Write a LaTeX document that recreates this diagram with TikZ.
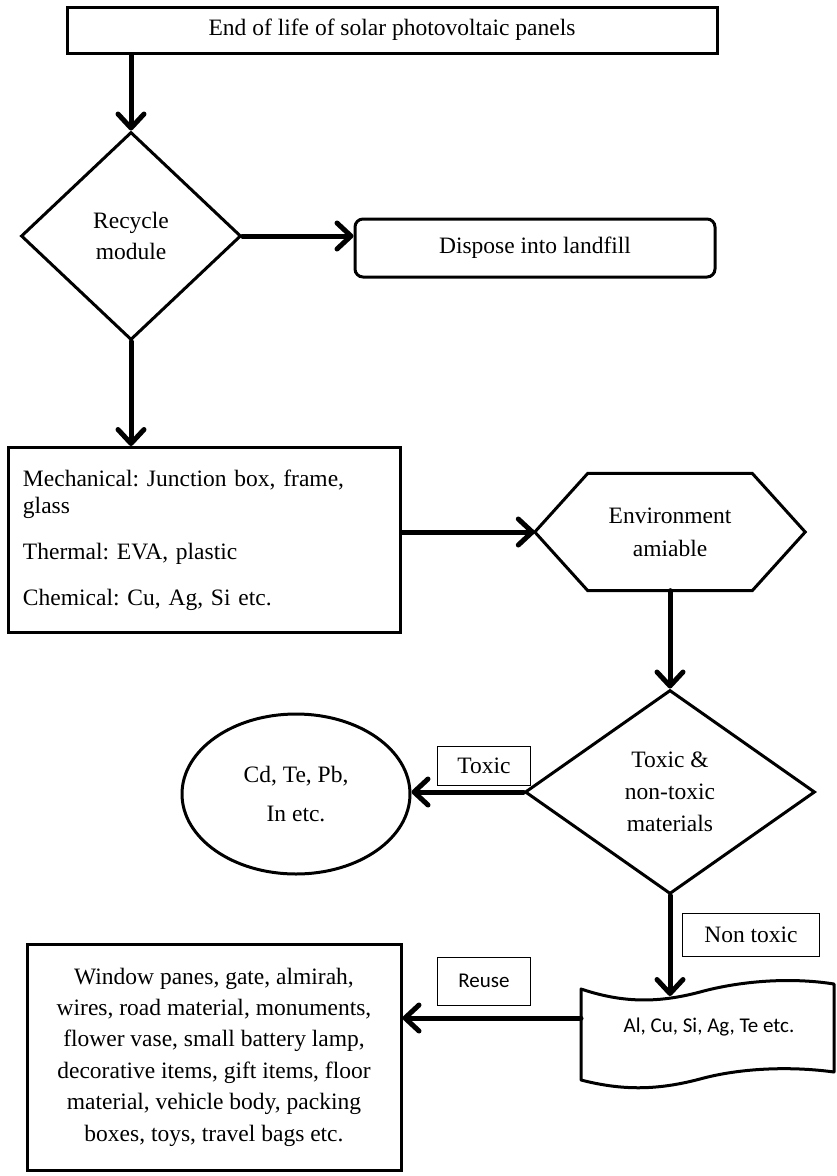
\documentclass[tikz,border=0pt]{standalone}
\usepackage{fontspec}
\setmainfont{Liberation Serif}
\newfontfamily\labelsans{Carlito}
\usetikzlibrary{positioning,shapes.geometric,arrows.meta}
\frenchspacing

\begin{document}
\begin{tikzpicture}[x=1pt,y=-1pt,
    font=\fontsize{23.5}{31}\selectfont,
    box/.style={draw,line width=3pt,inner sep=0pt},
    tag/.style={draw,line width=1pt,inner sep=0pt},
    flow/.style={line width=5pt,line cap=round,-{Straight Barb[length=14pt,width=26pt,round]}}]
  \useasboundingbox (0,0) rectangle (836,1176);
  % start and first decision
  \node[box,minimum width=650,minimum height=46] (eol) at (392,30) {End of life of solar photovoltaic panels};
  \node[box,diamond,minimum width=220,minimum height=208,align=center] (recycle) at (131,236) {Recycle\\module};
  \node[box,rounded corners=8pt,minimum width=360,minimum height=58] (landfill) at (535,248) {Dispose into landfill};
  \draw[flow] (recycle.north |- eol.south) -- (recycle.north);
  \draw[flow] (recycle.east) -- (recycle.east -| landfill.west);
  % recovery processes
  \node[box,minimum width=392,minimum height=185,text width=362,align=left,font=\fontsize{23.5}{27}\selectfont] (process) at (204,540)
    {Mechanical: Junction box, frame,\\glass\\[19pt]Thermal: EVA, plastic\\[19pt]Chemical: Cu, Ag, Si etc.};
  \draw[flow] (recycle.south) -- (recycle.south |- process.north);
  \node[inner sep=0pt,minimum width=270,minimum height=117,align=center,font=\fontsize{23.5}{33}\selectfont] (env) at (670,532) {Environment\\amiable};
  \draw[line width=3pt] (env.west) -- ([xshift=53pt]env.north west) -- ([xshift=-53pt]env.north east) -- (env.east)
    -- ([xshift=-53pt]env.south east) -- ([xshift=53pt]env.south west) -- cycle;
  \draw[flow] (env.west -| process.east) -- (env.west);
  % toxic or not
  \node[box,diamond,minimum width=290,minimum height=204,align=center,font=\fontsize{23.5}{32}\selectfont] (toxic) at (670,792) {Toxic \&\\non-toxic\\materials};
  \draw[flow] (env.south) -- (toxic.north);
  \node[box,ellipse,minimum width=228,minimum height=160,align=center,font=\fontsize{23.5}{39}\selectfont] (cd) at (296,794) {Cd, Te, Pb,\\In etc.};
  \node[tag,minimum width=93,minimum height=39] (toxictag) at (484,766) {Toxic};
  \draw[flow] (toxic.west) -- (toxic.west -| cd.east);
  % non toxic metals
  \node[tag,minimum width=137,minimum height=43] (nontag) at (751,935) {Non toxic};
  \node[inner sep=0pt,font=\labelsans\fontsize{21}{25}\selectfont] (metals) at (709,1027) {Al, Cu, Si, Ag, Te etc.};
  \draw[line width=3pt,line join=round] (581,989) .. controls (620,1002) and (655,1004) .. (700,992)
    .. controls (740,981) and (790,977) .. (834,984) -- (834,1072)
    .. controls (790,1066) and (740,1068) .. (700,1079)
    .. controls (655,1091) and (620,1090) .. (581,1080) -- cycle;
  \coordinate (metaltop) at (670,996);
  \coordinate (metalwest) at (581,1018);
  \draw[flow] (toxic.south) -- (toxic.south |- metaltop);
  % reuse
  \node[box,minimum width=374,minimum height=226,align=center,font=\fontsize{23.5}{31.4}\selectfont] (reuse) at (214,1057)
    {Window panes, gate, almirah,\\wires, road material, monuments,\\flower vase, small battery lamp,\\decorative items, gift items, floor\\material, vehicle body, packing\\boxes, toys, travel bags etc.};
  \node[tag,minimum width=93,minimum height=48,font=\labelsans\fontsize{21}{25}\selectfont] (reusetag) at (484,981) {Reuse};
  \draw[flow] (metalwest) -- (metalwest -| reuse.east);
\end{tikzpicture}
\end{document}
